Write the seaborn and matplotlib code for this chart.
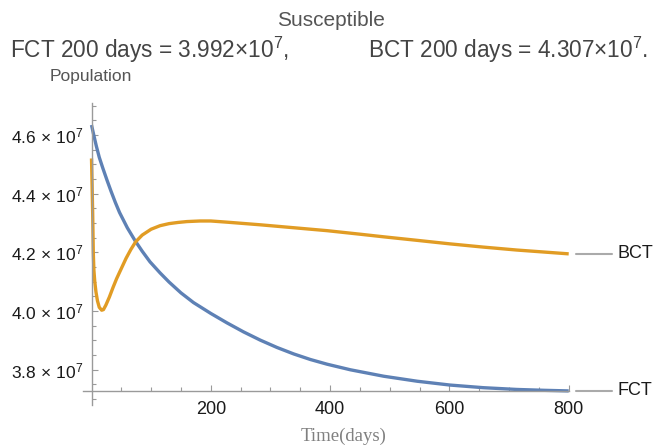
import numpy as np
import pandas as pd
import matplotlib
matplotlib.use("Agg")
import matplotlib.pyplot as plt
import seaborn as sns
from matplotlib.ticker import MultipleLocator, FixedLocator, FuncFormatter

# ---------------- data (population in units of 1e7) ----------------
fct_days = [0, 4, 8, 13, 19, 26, 33, 40, 47, 60, 73, 85, 98, 115, 130, 150, 171,
            200, 227, 255, 283, 311, 339, 367, 395, 434, 490, 546, 601, 657,
            713, 760, 800]
fct_pop = [4.634, 4.598, 4.563, 4.524, 4.487, 4.446, 4.407, 4.370, 4.336, 4.284,
           4.240, 4.204, 4.168, 4.130, 4.099, 4.062, 4.029, 3.992, 3.960, 3.929,
           3.901, 3.876, 3.854, 3.835, 3.819, 3.800, 3.778, 3.761, 3.748, 3.739,
           3.733, 3.730, 3.728]

bct_days = [0, 1, 2, 3, 4, 5.5, 7.5, 10, 13, 17, 20, 24, 30, 36, 42, 47, 58, 66,
            74, 85, 100, 115, 130, 145, 160, 182, 200, 227, 283, 339, 395, 450,
            490, 546, 601, 657, 713, 760, 800]
bct_pop = [4.520, 4.430, 4.330, 4.200, 4.140, 4.100, 4.065, 4.035, 4.013, 4.003,
           4.005, 4.020, 4.048, 4.080, 4.110, 4.132, 4.180, 4.210, 4.236, 4.259,
           4.279, 4.291, 4.298, 4.302, 4.305, 4.307, 4.307, 4.303, 4.294, 4.284,
           4.274, 4.262, 4.253, 4.241, 4.229, 4.218, 4.208, 4.201, 4.195]

series_names = ["FCT", "BCT"]
colors = {"FCT": "#5E81B5", "BCT": "#E19C24"}

y_major = [3.8, 4.0, 4.2, 4.4, 4.6]
x_major = [200, 400, 600, 800]

title = "Susceptible"
fct_text = r"FCT 200 days = 3.992$\times$10$^{7}$,"
bct_text = r"BCT 200 days = 4.307$\times$10$^{7}$."

df = pd.concat([
    pd.DataFrame({"day": fct_days, "pop": fct_pop, "series": "FCT"}),
    pd.DataFrame({"day": bct_days, "pop": bct_pop, "series": "BCT"}),
])

# ---------------- style ----------------
sns.set_style("white")
plt.rcParams["font.family"] = ["Liberation Sans", "DejaVu Sans"]
plt.rcParams["mathtext.fontset"] = "custom"
plt.rcParams["mathtext.rm"] = "Liberation Sans"
plt.rcParams["mathtext.it"] = "Liberation Sans:italic"
plt.rcParams["mathtext.bf"] = "Liberation Sans:bold"

W, H = 657, 448
fig = plt.figure(figsize=(W / 100, H / 100), dpi=100)

x0, x1 = -14, 802
y0, y1 = 3.679, 4.709
left_px, right_px = 83.15, 569.9
top_px, bot_px = 103, 405.3
ax = fig.add_axes([left_px / W, 1 - bot_px / H, (right_px - left_px) / W,
                   (bot_px - top_px) / H])

sns.lineplot(data=df, x="day", y="pop", hue="series", palette=colors,
             hue_order=series_names, linewidth=2.4, ax=ax, legend=False,
             sort=False, estimator=None)
for ln in ax.lines:
    ln.set_clip_on(False)
    ln.set_solid_capstyle("butt")

ax.set_xlim(x0, x1)
ax.set_ylim(y0, y1)
ax.set_xlabel("")
ax.set_ylabel("")

axis_y = 3.727
spine_col = "#9a9a9a"
ax.spines["top"].set_visible(False)
ax.spines["right"].set_visible(False)
ax.spines["left"].set_position(("data", 0))
ax.spines["bottom"].set_position(("data", axis_y))
ax.spines["bottom"].set_bounds(x0, 800)
for s in ["left", "bottom"]:
    ax.spines[s].set_color(spine_col)
    ax.spines[s].set_linewidth(1.0)

ax.xaxis.set_major_locator(FixedLocator(x_major))
ax.xaxis.set_minor_locator(FixedLocator(list(range(50, 801, 50))))
ax.yaxis.set_major_locator(FixedLocator(y_major))
ax.yaxis.set_minor_locator(MultipleLocator(0.05))
ax.yaxis.set_major_formatter(
    FuncFormatter(lambda v, p: r"$%.1f\,\times\,10^{7}$" % v))

ax.tick_params(axis="both", which="both", bottom=True, left=True, top=False,
               right=False)
ax.tick_params(axis="both", which="major", direction="in", length=4.5, width=0.8,
               color=spine_col, labelsize=12.5, labelcolor="#1a1a1a")
ax.tick_params(axis="both", which="minor", direction="in", length=2.6, width=0.8,
               color=spine_col)
ax.tick_params(axis="y", which="major", pad=6)
ax.tick_params(axis="x", which="major", pad=7)
for lab in ax.get_xticklabels():
    lab.set_fontsize(13)

# end labels
for name, days, vals in [("BCT", bct_days, bct_pop), ("FCT", fct_days, fct_pop)]:
    yv = vals[-1]
    ax.plot([812, 873], [yv, yv], color="#aaaaaa", lw=1.5, clip_on=False)
    ax.text(881, yv, name, ha="left", va="center", fontsize=13, color="#1a1a1a",
            clip_on=False)

# titles & axis labels
fig.text(331 / W, 1 - 20 / H, title, ha="center", va="center", fontsize=15,
         color="#555555")
fig.text(10 / W, 1 - 50 / H, fct_text, ha="left", va="center", fontsize=16.3,
         color="#444444")
fig.text(368 / W, 1 - 50 / H, bct_text, ha="left", va="center", fontsize=16.3,
         color="#444444")
fig.text(50 / W, 1 - 76 / H, "Population", ha="left", va="center", fontsize=12.5,
         color="#555555")
fig.text(344 / W, 1 - 436 / H, "Time(days)", ha="center", va="center",
         fontsize=13.5, color="#808080", family="Liberation Serif")

fig.savefig("out.png", dpi=100)
